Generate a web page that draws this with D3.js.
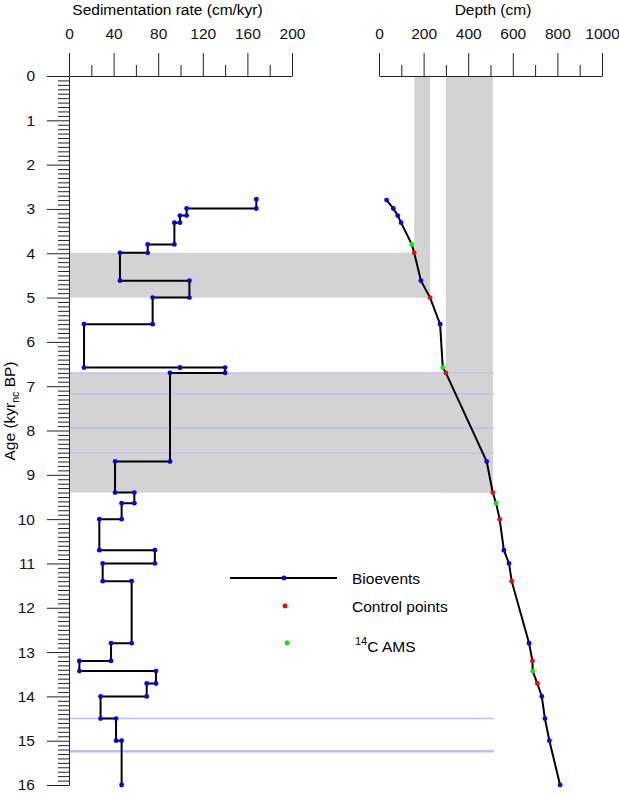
<!DOCTYPE html>
<html><head><meta charset="utf-8">
<script src="https://cdn.jsdelivr.net/npm/d3@7"></script>
<style>body{margin:0;background:#fff}svg{display:block;font-family:"Liberation Sans",Arial,sans-serif}</style>
</head><body>
<svg id="c" width="619" height="794"></svg>
<script>
// ---- data ----
const rateAgeBreaks = [2.78, 2.99, 3.15, 3.31, 3.80, 3.99, 4.62, 5.00, 5.60, 6.58, 6.58, 6.70, 8.70, 9.40, 9.64, 10.00, 10.70, 11.00, 11.40, 12.80, 13.20, 13.43, 13.71, 14.00, 14.50, 15.00, 16.00];
const rates = [168, 105.5, 99.5, 94.5, 70.6, 45.7, 108, 75, 13.5, 99.5, 140, 90.6, 41.3, 58.6, 47.2, 27.2, 77, 30.2, 56.2, 37.7, 9.3, 78, 69.7, 28.3, 42.2, 47.2];

const pointAges = [2.80, 2.99, 3.15, 3.31, 3.80, 3.99, 4.62, 5.00, 5.60, 6.58, 6.70, 8.70, 9.40, 9.64, 10.00, 10.70, 11.00, 11.40, 12.80, 13.20, 13.43, 13.71, 14.00, 14.50, 15.00, 16.00];
const pointDepths = [34, 64, 84, 99, 147, 158, 188, 229, 274, 286, 300, 483, 510, 525, 541, 560, 583, 595, 673, 688, 689, 710, 730, 744, 764, 812];
const pointTypes = ["B","B","B","B","A","C","B","C","B","A","C","B","C","A","C","B","B","C","B","C","A","C","B","B","B","B"];

const bandDepthTop = [158, 300];
const bandDepthBottom = [229, 510];
const bandAgeTop = [3.99, 6.70];
const bandAgeBottom = [5.00, 9.40];

const eventLineAges = [6.70, 7.17, 7.95, 8.51, 14.50, 15.24];
const eventLineWidths = [1.4, 1.4, 1.4, 1.4, 1.4, 2.5];
const eventLineDepthEnd = 515;

const rateTicks = [0, 40, 80, 120, 160, 200];
const depthTicks = [0, 200, 400, 600, 800, 1000];
const ageTicks = d3.range(0, 17);

const typeColor = {B: "#0000ff", C: "#ff0000", A: "#00ee00"};
const legendItems = [{type: "B", label: "Bioevents"}, {type: "C", label: "Control points"}, {type: "A", label: "C AMS", sup: "14"}];

// ---- scales ----
const svg = d3.select("#c");
const y = d3.scaleLinear().domain([0, 16]).range([76, 785]);
const xR = d3.scaleLinear().domain([0, 200]).range([69, 292]);
const xD = d3.scaleLinear().domain([0, 1000]).range([379, 602]);
const GRAY = "#d3d3d3", LAV = "#bdbdf7";

// gray bands
const bands = bandDepthTop.map((d, i) => ({d0: d, d1: bandDepthBottom[i], a0: bandAgeTop[i], a1: bandAgeBottom[i]}));
svg.append("g").selectAll("rect.h").data(bands).join("rect")
  .attr("x", xR(0)).attr("y", d => y(d.a0))
  .attr("width", d => xD(d.d1) - xR(0)).attr("height", d => y(d.a1) - y(d.a0))
  .attr("fill", GRAY);
svg.append("g").selectAll("rect.v").data(bands).join("rect")
  .attr("x", d => xD(d.d0)).attr("y", y(0))
  .attr("width", d => xD(d.d1) - xD(d.d0)).attr("height", d => y(d.a1) - y(0))
  .attr("fill", GRAY);

// lavender event lines
svg.append("g").selectAll("line").data(eventLineAges).join("line")
  .attr("x1", xR(0)).attr("x2", xD(eventLineDepthEnd))
  .attr("y1", d => y(d)).attr("y2", d => y(d))
  .attr("stroke", LAV).attr("stroke-width", (d, i) => eventLineWidths[i]);

// ---- axes ----
function styleAxis(g) {
  g.selectAll("path.domain").attr("stroke", "#222").attr("stroke-width", 1);
  g.selectAll(".tick line").attr("stroke", "#222").attr("stroke-width", 1);
  g.selectAll("text").attr("fill", "#111").attr("font-size", 15.5).attr("font-family", '"Liberation Sans",Arial,sans-serif');
}
const fmt = d3.format("d");
// top rate axis
const gR = svg.append("g").attr("transform", `translate(0,${y(0)})`);
gR.call(d3.axisTop(xR).tickValues(d3.range(20, 200, 40)).tickSize(11).tickSizeOuter(0).tickFormat(""));
gR.append("g").call(d3.axisTop(xR).tickValues(rateTicks).tickSize(23).tickSizeOuter(0).tickPadding(14).tickFormat(fmt)).call(g => g.select(".domain").remove());
styleAxis(gR);
// top depth axis
const gD = svg.append("g").attr("transform", `translate(0,${y(0)})`);
gD.call(d3.axisTop(xD).tickValues(d3.range(100, 1000, 200)).tickSize(11).tickSizeOuter(0).tickFormat(""));
gD.append("g").call(d3.axisTop(xD).tickValues(depthTicks).tickSize(23).tickSizeOuter(0).tickPadding(14).tickFormat(fmt)).call(g => g.select(".domain").remove());
styleAxis(gD);
// left age axis
const gA = svg.append("g").attr("transform", `translate(${xR(0)},0)`);
gA.call(d3.axisLeft(y).tickValues(d3.range(0, 161).map(v => v / 10).filter(v => Math.abs(v - Math.round(v)) > 1e-6)).tickSize(11).tickSizeOuter(0).tickFormat(""));
gA.append("g").call(d3.axisLeft(y).tickValues(ageTicks).tickSize(22).tickSizeOuter(0).tickPadding(12).tickFormat(fmt)).call(g => g.select(".domain").remove());
styleAxis(gA);

// titles
svg.append("text").attr("x", 167.5).attr("y", 15).attr("text-anchor", "middle").attr("font-size", 15.5).text("Sedimentation rate (cm/kyr)");
svg.append("text").attr("x", 493).attr("y", 15).attr("text-anchor", "middle").attr("font-size", 15.5).text("Depth (cm)");
const yt = svg.append("text").attr("transform", "translate(15,411) rotate(-90)").attr("text-anchor", "middle").attr("font-size", 15.5);
yt.append("tspan").text("Age (kyr");
yt.append("tspan").attr("font-size", 10.5).attr("dy", 4).text("nc");
yt.append("tspan").attr("dy", -4).text(" BP)");

// ---- rate step line ----
const stepPts = [];
rates.forEach((r, i) => { stepPts.push([r, rateAgeBreaks[i]]); stepPts.push([r, rateAgeBreaks[i + 1]]); });
const line = d3.line().x(d => xR(d[0])).y(d => y(d[1]));
svg.append("path").attr("d", line(stepPts)).attr("fill", "none").attr("stroke", "#000").attr("stroke-width", 2).attr("stroke-linejoin", "miter");
svg.append("g").selectAll("circle").data(stepPts).join("circle")
  .attr("cx", d => xR(d[0])).attr("cy", d => y(d[1])).attr("r", 2.4).attr("fill", "#0000ee");

// ---- age-depth curve ----
const ad = pointAges.map((a, i) => ({a, d: pointDepths[i], t: pointTypes[i]}));
svg.append("path").attr("d", d3.line().x(d => xD(d.d)).y(d => y(d.a))(ad)).attr("fill", "none").attr("stroke", "#000").attr("stroke-width", 2);
svg.append("g").selectAll("circle").data(ad).join("circle")
  .attr("cx", d => xD(d.d)).attr("cy", d => y(d.a)).attr("r", 2.4).attr("fill", d => typeColor[d.t]);

// ---- legend ----
const lg = svg.append("g");
lg.append("line").attr("x1", 230).attr("x2", 337).attr("y1", 578).attr("y2", 578).attr("stroke", "#000").attr("stroke-width", 2);
const ly = [578, 606, 643], lx = [284, 285, 287];
legendItems.forEach((it, i) => {
  lg.append("circle").attr("cx", lx[i]).attr("cy", ly[i]).attr("r", 2.4).attr("fill", typeColor[it.type]);
  const t = lg.append("text").attr("x", it.sup ? 355 : 352).attr("y", ly[i] + 5.5 + (it.sup ? 3 : 0)).attr("font-size", 15.5);
  if (it.sup) { t.append("tspan").attr("font-size", 11).attr("dy", -7).text(it.sup); t.append("tspan").attr("dy", 7).text(it.label); }
  else t.text(it.label);
});
</script>
</body></html>
